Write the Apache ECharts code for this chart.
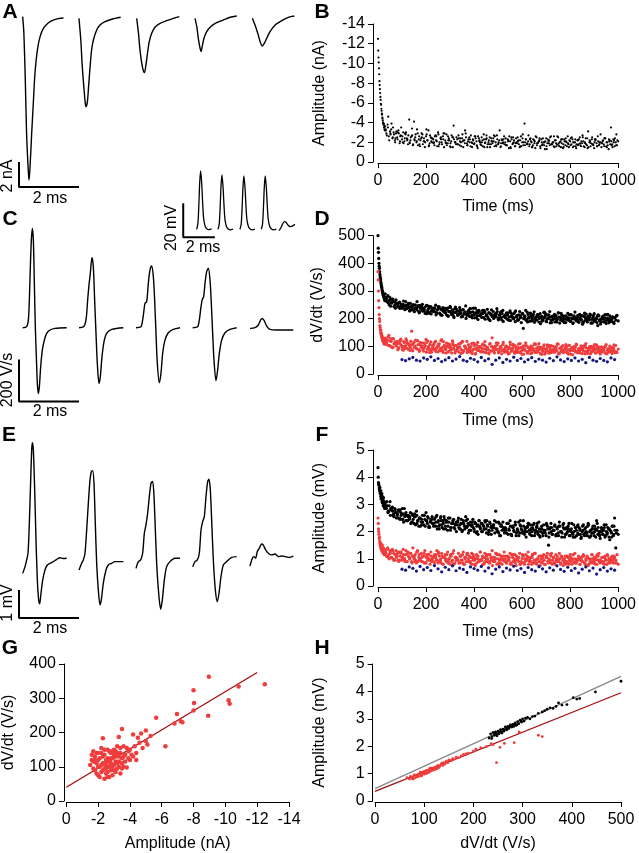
<!DOCTYPE html>
<html><head><meta charset="utf-8">
<script src="https://cdn.jsdelivr.net/npm/echarts/dist/echarts.min.js"></script>
<style>html,body{margin:0;padding:0;background:#fff}#c{width:639px;height:853px}</style>
</head><body><div id="c"></div><script>
// ---------- Panel A: current traces [t (ms from trace start), nA] ----------
const aStarts = [0.756, 2.633, 4.556, 6.5, 8.411];
const traceA1 = [[0,0],[0.04,-1.33],[0.09,-5.33],[0.13,-9.33],[0.18,-12.0],[0.21,-13.07],[0.24,-12.27],[0.30,-9.33],[0.36,-6.67],[0.41,-4.53],[0.49,-2.67],[0.58,-1.6],[0.69,-0.93],[0.86,-0.48],[1.02,-0.27],[1.19,-0.16],[1.36,-0.11]];
const traceA2 = [[0,-0.13],[0.06,-1.87],[0.11,-4.0],[0.17,-5.87],[0.21,-6.93],[0.24,-7.2],[0.28,-6.8],[0.32,-5.6],[0.37,-4.0],[0.42,-2.67],[0.48,-1.87],[0.59,-1.07],[0.70,-0.67],[0.87,-0.4],[1.09,-0.21],[1.39,-0.05]];
const traceA3 = [[0,-0.13],[0.06,-1.33],[0.11,-2.67],[0.17,-3.73],[0.22,-4.32],[0.26,-4.48],[0.30,-4.0],[0.36,-2.93],[0.42,-2.0],[0.50,-1.33],[0.61,-0.85],[0.78,-0.53],[1.0,-0.32],[1.22,-0.13],[1.42,0]];
const traceA4 = [[0,-0.13],[0.06,-0.8],[0.11,-1.73],[0.17,-2.53],[0.20,-2.8],[0.24,-2.4],[0.30,-1.73],[0.39,-1.2],[0.52,-0.8],[0.72,-0.48],[0.94,-0.27],[1.17,-0.05],[1.39,0.05]];
const traceA5 = [[0,-0.13],[0.09,-0.67],[0.18,-1.33],[0.26,-2.0],[0.33,-2.35],[0.40,-2.13],[0.48,-1.73],[0.59,-1.2],[0.76,-0.67],[0.98,-0.32],[1.2,-0.05],[1.4,0.05]];
// ---------- Inset: voltage spikes [t, mV] ----------
const inStarts = [2.32, 3.67, 5.06, 6.41, 7.53];
const spike1 = [[0,0],[0.08,3.5],[0.15,17],[0.19,27],[0.25,34.3],[0.32,27],[0.38,15.3],[0.44,6.5],[0.53,2],[0.63,0.4],[0.78,-0.2],[0.95,0.2]];
const spike2 = [[0,0],[0.08,3.2],[0.15,15.8],[0.19,25],[0.25,32],[0.32,25],[0.38,14.2],[0.44,6],[0.53,1.8],[0.63,0.3],[0.78,-0.3],[0.95,0.1]];
const spike3 = [[0,0],[0.08,3.1],[0.15,15.5],[0.19,24.6],[0.25,31.4],[0.32,24.6],[0.38,13.9],[0.44,5.9],[0.53,1.8],[0.63,0.3],[0.78,-0.3],[0.95,0.1]];
const spike4 = [[0,0],[0.08,3.1],[0.15,15.5],[0.19,24.6],[0.25,31.4],[0.32,24.6],[0.38,13.9],[0.44,5.9],[0.53,1.8],[0.63,0.3],[0.78,-0.3],[0.95,0.1]];
const spike5 = [[0,-0.8],[0.105,0.6],[0.232,3.1],[0.338,4.5],[0.443,4.1],[0.57,2.5],[0.696,1.6],[0.865,2.0],[1.01,2.9]];
// ---------- Panel C: dV/dt traces [t, V/s] ----------
const cStarts = [0.756, 2.633, 4.533, 6.422, 8.333];
const traceC1 = [[0,0],[0.133,5],[0.189,37],[0.222,132],[0.256,290],[0.289,417],[0.322,473],[0.356,417],[0.389,211],[0.422,0],[0.456,-138],[0.489,-265],[0.522,-313],[0.556,-281],[0.6,-186],[0.656,-106],[0.722,-59],[0.8,-27],[0.911,-11],[1.078,-3],[1.467,0]];
const traceC2 = [[0,0],[0.144,3],[0.233,37],[0.289,132],[0.333,203],[0.378,259],[0.433,335],[0.478,290],[0.522,132],[0.567,-27],[0.611,-170],[0.667,-265],[0.711,-233],[0.767,-138],[0.833,-67],[0.922,-27],[1.089,-8],[1.478,0]];
const traceC3 = [[0,0],[0.156,3],[0.222,37],[0.267,84],[0.3,116],[0.356,124],[0.411,211],[0.467,275],[0.522,294],[0.578,243],[0.622,132],[0.667,-27],[0.711,-170],[0.778,-262],[0.833,-217],[0.889,-122],[0.967,-59],[1.078,-24],[1.244,-8],[1.467,0]];
const traceC4 = [[0,0],[0.156,3],[0.222,37],[0.278,100],[0.322,135],[0.367,148],[0.411,211],[0.467,267],[0.522,283],[0.578,227],[0.622,116],[0.667,-27],[0.711,-154],[0.778,-252],[0.833,-202],[0.889,-122],[0.967,-59],[1.078,-24],[1.244,-8],[1.467,0]];
const traceC5 = [[0,-3],[0.167,0],[0.278,13],[0.356,37],[0.411,44],[0.478,33],[0.556,8],[0.667,-8],[0.889,-11],[1.111,-11],[1.444,-11]];
// ---------- Panel E: extracellular traces [t, mV] ----------
const traceE1 = [[0,-0.36],[0.078,-0.12],[0.133,0.12],[0.178,0.36],[0.222,1.43],[0.267,2.98],[0.3,4.05],[0.322,4.31],[0.356,4.05],[0.4,2.62],[0.444,0.83],[0.489,-0.6],[0.533,-1.31],[0.567,-1.45],[0.611,-1.07],[0.667,-0.6],[0.744,-0.24],[0.822,-0.06],[0.911,0],[1.022,0.06],[1.133,0.14],[1.244,0.2],[1.356,0.17],[1.467,0.18]];
const traceE2 = [[0,-0.24],[0.089,0],[0.144,0.12],[0.2,0.36],[0.256,1.19],[0.311,2.14],[0.367,2.98],[0.411,3.27],[0.456,3.31],[0.5,2.86],[0.544,1.43],[0.589,0],[0.644,-0.95],[0.7,-1.49],[0.744,-1.31],[0.811,-0.71],[0.9,-0.24],[0.978,-0.06],[1.089,0],[1.2,0.06],[1.311,0.06],[1.478,0.06]];
const traceE3 = [[0,-0.18],[0.078,0.06],[0.156,0.12],[0.222,0.36],[0.278,1.07],[0.333,1.37],[0.389,1.79],[0.444,2.38],[0.5,2.86],[0.544,2.92],[0.589,2.62],[0.633,1.55],[0.689,0],[0.756,-1.07],[0.822,-1.64],[0.878,-1.31],[0.944,-0.6],[1.022,-0.12],[1.133,0.06],[1.3,0.18],[1.467,0.18]];
const traceE4 = [[0,-0.12],[0.078,0.06],[0.156,0.12],[0.222,0.36],[0.278,1.19],[0.333,1.49],[0.389,1.67],[0.444,2.38],[0.5,2.92],[0.544,3.0],[0.589,2.62],[0.633,1.55],[0.689,0.12],[0.756,-0.95],[0.822,-1.37],[0.878,-1.07],[0.944,-0.48],[1.022,-0.06],[1.133,0.06],[1.3,0.21],[1.467,0.24]];
const traceE5 = [[0,-0.1],[0.078,0.18],[0.133,0.24],[0.189,0.18],[0.244,0.42],[0.311,0.54],[0.389,0.69],[0.444,0.65],[0.522,0.48],[0.611,0.36],[0.722,0.3],[0.833,0.33],[0.944,0.24],[1.056,0.26],[1.167,0.24],[1.311,0.21],[1.444,0.26]];

// ---------- Panel B: amplitude (nA) vs time ----------
const bEarly = [-12.5,-11.3,-10.6,-10.1,-9.5,-8.9,-8.2,-7.8,-7.4,-7.0,-6.6,-6.3,-5.9,-5.8,-5.4,-5.2,-4.9,-4.8,-4.5,-4.4,-4.2,-4.0,-3.9,-3.8,-3.9,-3.5,-3.7,-3.3,-3.6,-3.2];
const bLate1 = [-3.6,-2.9,-3.8,-2.6,-3.1,-3.3,-2.4,-3.0,-2.2,-2.9,-2.5,-3.2,-1.9,-2.7,-2.3,-3.0,-2.1,-2.8,-2.4,-1.8,-4.3,-2.2,-2.6,-1.7,-4.1,-2.5,-2.0,-2.9,-2.3,-1.6,-2.4,-2.8,-2.1,-1.5,-2.6,-2.2,-3.2,-1.9,-2.5,-2.0,-2.3,-1.7,-2.7,-2.1,-3.0,-1.8,-2.4,-2.0,-2.6,-1.5,-2.2,-2.8,-1.9,-2.4,-1.6,-2.1,-2.5,-3.7,-2.0,-1.8,-2.3,-2.7,-1.7,-2.0,-2.4,-1.5,-2.2,-2.9,-1.9,-2.1,-2.5,-1.6,-2.0,-2.3,-1.8,-2.6,-2.1,-1.4,-2.4,-2.0,-1.7,-2.2,-2.8,-1.9,-2.3,-1.5,-2.0,-2.5,-1.8,-2.1,-2.4,-1.6,-2.0,-2.7,-1.8,-2.2,-1.5,-2.3,-1.9,-2.6,-2.0,-1.7,-2.3,-1.4,-2.1,-2.5,-1.8,-2.0,-1.6,-2.4,-1.9,-2.2,-1.5,-2.6,-2.0,-1.7,-3.9,-2.3,-1.8,-2.1,-1.6,-2.4,-2.0,-1.7,-2.2,-1.4,-2.5,-1.9,-2.1,-1.6,-2.3,-1.8,-2.0,-1.3,-2.4,-1.9,-2.1,-1.7,-2.6,-1.8,-2.0,-1.5,-2.2,-1.8,-2.5,-1.6,-2.1,-1.9,-1.4,-2.3,-1.7,-2.0,-2.6,-1.5,-2.1,-1.8,-2.3,-1.6,-2.0,-1.4,-2.2,-1.8,-2.5,-1.6,-1.9,-2.1,-1.5,-2.4,-1.7,-3.1,-2.0,-1.6,-2.3,-1.8,-1.4,-2.2,-1.9,-2.6,-1.7,-2.0,-1.5,-2.1,-1.8,-2.4,-1.6,-2.0,-1.3,-2.2,-3.5,-1.8,-2.3,-1.6,-2.0,-1.7,-2.1];
const bLate2 = [-3.2,-4.6,-2.8,-3.5,-2.4,-3.0,-2.6,-2.0,-2.9,-2.3,-1.9,-2.7,-2.2,-3.3,-1.8,-2.5,-2.1,-2.8,-1.7,-2.4,-2.0,-2.6,-1.6,-2.3,-2.9,-1.9,-2.2,-1.5,-2.5,-2.0,-1.8,-2.4,-2.1,-3.2,-1.7,-2.3,-1.9,-2.6,-1.6,-2.2,-2.0,-1.5,-2.4,-1.8,-2.1,-2.7,-1.6,-2.0,-1.9,-2.3,-1.7,-2.2,-1.4,-2.5,-1.9,-2.1,-1.6,-2.8,-2.0,-1.8,-2.3,-1.5,-2.1,-1.9,-2.4,-1.7,-2.0,-1.3,-2.2,-1.8,-2.6,-1.6,-1.9,-2.3,-1.5,-2.1,-1.8,-2.4,-2.0,-1.6,-2.2,-1.7,-2.5,-1.9,-1.4,-2.1,-1.8,-2.3,-1.6,-2.0,-1.9,-2.4,-1.5,-2.1,-1.7,-2.2,-2.8];
const bLate3 = [-3.3,-2.7,-3.5,-2.2,-2.9,-3.9,-2.5,-2.8,-2.0,-3.1,-2.3,-2.9,-2.1,-3.5,-2.6,-1.9,-2.4,-3.0,-2.2,-2.7,-2.0,-2.5,-3.4,-1.8,-2.3,-2.8,-2.1,-1.7,-2.6,-2.2,-2.9,-1.8,-2.4,-2.0,-3.3,-2.2,-1.6,-2.7,-2.1,-2.4,-1.9,-2.6,-2.2,-1.6,-2.8,-2.0,-2.5,-1.8,-2.3,-2.9,-2.0,-1.7,-2.6,-2.2,-1.9,-2.7,-1.5,-2.3,-2.0,-2.5,-1.8,-2.4,-2.1,-1.6,-2.8,-2.2,-1.9,-2.5,-1.7,-2.3,-2.0,-2.7,-1.5,-2.2,-1.9,-2.4,-1.7,-2.6,-2.1,-1.8,-2.5,-1.6,-2.3,-2.0,-2.7,-1.8,-2.2,-1.5,-2.4,-1.9,-2.1,-2.6,-1.7,-2.3,-1.9,-3.2,-1.6,-2.2,-2.0,-1.8,-2.4,-1.7,-2.1,-2.6,-1.5,-2.3,-1.9,-2.2,-1.6,-2.0,-2.5,-1.8,-2.2,-1.6,-2.4,-2.0,-1.7,-2.3,-1.9,-2.7,-1.8,-2.1,-1.5,-2.3,-1.9,-2.6,-1.7,-2.0,-2.2,-1.4,-2.0,-2.4,-1.7,-2.1,-1.6,-2.3,-1.9,-2.5,-1.8,-2.0,-1.6,-2.2,-1.9,-2.6,-1.7,-2.0,-1.5,-2.3,-1.8,-2.1,-2.4,-1.6,-1.9,-2.2,-1.7,-2.5,-1.5,-2.0,-2.3,-1.8,-1.7,-2.3,-1.9,-2.1,-2.7,-1.6,-2.0,-1.8,-2.4,-1.5,-2.2,-1.9,-2.5,-1.7,-2.0,-2.3,-1.6,-2.1,-1.8,-2.8,-1.9,-2.2,-1.6,-2.4,-2.0,-1.7,-2.3,-1.8,-2.1,-1.5,-2.0,-2.4,-1.7,-2.2];

// ---------- Panel D: dV/dt (V/s) vs time ----------
const dBlackEarly = [500,455,440,418,400,390,382,370,360,352,346,340,332,325,320,315,312,305,300,298,292,290,285,283,278,280,272,275,268,265];
const dBlack1 = [290,272,281,265,276,258,270,262,249,268,255,242,260,248,238,252,244,262,236,247,240,255,232,246,228,250,237,243,226,248,234,252,229,241,222,247,236,219,244,231,238,226,249,220,235,243,216,232,240,224,230,214,238,226,245,219,232,208,236,224,228,215,240,222,210,233,219,246,212,227,220,236,207,225,214,238,203,221,230,212,218,230,204,224,211,234,199,220,215,208,226,205,218,236,200,214,222,196,230,210,204,221,213,195,228,208,217,199,224,206,212,196,226,205,218,165,209,230,197,215,203,220,192,211,225,198,207,215,188,218,205,196,222,209,190,214,201,226,195,208,198,216,204,188,221,206,195,213,200,186,210,197,219,203,191,214,199,207,224,193,205,189,216,198,211,186,220,202,194,209,196,213,185,204,218,192,200,175,210,197,188,206,199,215,183,202,194,210,190,201,186,205,195,212,192];
const dBlack2 = [276,258,245,262,238,255,241,250,233,247,229,244,236,262,224,239,231,218,245,227,234,221,240,213,229,237,210,226,219,242,216,231,208,224,213,236,203,220,229,211,206,223,214,198,232,209,218,202,226,207,213,196,221,205,228,194,210,217,200,188,219,203,195,214,207,191,224,199,208,186,211,197,205,219,190,206,199,214,185,203,196,212,188,207,201,217,184,198,209,192,202,188,215,196,205,183,210];
const dBlack3 = [275,262,283,250,268,256,271,244,259,251,246,258,237,253,241,264,233,249,239,255,228,244,235,251,225,240,232,247,221,238,243,227,236,219,248,230,223,241,217,234,225,239,214,231,244,220,235,212,228,237,221,233,209,226,240,215,229,204,223,235,212,227,219,206,232,216,224,201,218,229,208,223,213,238,203,220,211,197,226,215,205,219,230,198,214,207,222,193,217,210,201,216,208,226,196,212,204,219,190,209,215,199,221,206,193,211,202,218,189,207,197,214,203,186,219,200,209,194,223,204,191,210,199,216,187,205,195,213,201,182,208,194,203,219,189,200,214,185,206,196,202,188,211,197,221,184,204,193,209,199,186,207,195,215,190,201,183,210,198,192,212,187,203,196,180,208,193,217,188,199,205,184,197,211,191,200,186,214,195,181,198,209,189,203,194,216,185,201,192,207,188,204];
const dRedEarly = [370,340,300,265,240,215,200,190,175,168,160,150,158,142,147,135,140,128,133,125,120,130,118,126,112,122,115,108,120,111];
const dRed1 = [130,108,122,140,101,118,95,127,112,105,118,92,110,126,99,86,114,103,121,90,108,96,155,84,115,101,92,120,88,106,97,112,83,104,125,90,99,78,116,93,102,87,118,95,80,109,91,124,85,100,93,112,79,98,106,87,120,94,76,103,89,108,97,74,115,85,101,92,118,82,96,79,110,88,103,72,94,114,85,99,80,105,91,117,77,96,87,108,83,131,94,76,102,89,112,81,98,73,107,90,85,100,78,96,115,82,91,104,75,93,88,108,79,95,71,102,86,113,80,97,84,74,99,89,106,78,93,83,110,76,95,86,101,72,90,105,81,97,77,88,100,79,92,84,108,73,95,87,103,80,89,98,75,104,83,94,70,99,86,108,78,91,85,102,74,96,82,110,79,93,87,73,100,84,95,77,105,81,90,72,98,83,92,76,106,85,79,101,88,74,95,82,103,78,90];
const dRed2 = [115,103,128,96,110,88,119,100,93,112,85,106,97,121,82,101,94,114,89,79,108,92,100,84,117,76,98,90,105,81,95,111,78,100,87,93,74,109,86,97,82,104,90,76,99,88,113,80,94,85,101,73,92,107,83,96,78,89,102,75,93,86,110,80,97,71,91,84,104,79,88,99,76,94,83,106,72,90,85,98,77,92,86,103,74,95,81,89,100,78,87,96,73,91,84,105,80];
const dRed3 = [125,112,133,104,119,98,128,109,116,101,111,95,122,105,89,117,100,127,93,108,102,118,87,110,96,123,91,106,84,114,98,88,112,101,79,119,94,107,85,103,92,115,81,99,108,86,121,95,78,104,89,101,110,83,97,76,113,90,103,85,96,80,109,88,118,82,100,92,77,106,87,99,83,112,91,75,104,86,97,81,93,108,79,102,88,95,73,110,84,99,81,96,89,105,77,92,100,85,114,79,97,84,91,74,106,88,95,80,102,86,78,93,110,83,97,72,90,104,81,95,87,101,76,92,84,107,79,98,88,73,94,82,105,78,91,99,75,89,103,84,80,96,86,109,74,93,81,100,77,90,97,79,88,104,72,95,85,92,80,106,83,91,76,99,87,102,73,94,82,89,100,78,93,85,106,75,90,81,97,86,79,95,84,101,74,92,88,80,96,83,91,77];
const dBlue = [52,48,55,60,50,47,58,53,62,49,56,45,51,59,47,54,63,50,46,57,52,44,60,48,55,35,50,58,42,53,47,61,49,56,44,52,59,46,54,50,43,57,48,62,51,45,55,49,58,47,53,41,60,50,46,56,49,44,58,52];

// ---------- Panel F: amplitude (mV) vs time ----------
const fBlackEarly = [4.35,4.0,3.8,3.75,3.7,3.6,3.55,3.5,3.62,3.4,3.45,3.3,3.5,3.2,3.35,3.25,3.4,3.1,3.3,3.05,3.2,3.15,2.95,3.25,3.0,3.1,2.9,3.05,2.85,3.0];
const fBlack1 = [3.05,2.85,2.95,2.75,3.1,2.8,2.9,2.65,2.85,2.7,2.6,2.8,2.5,2.7,2.45,2.65,2.85,2.4,2.6,2.55,2.45,2.7,2.35,2.6,2.3,2.55,2.75,2.4,2.2,2.5,2.35,2.6,2.25,2.45,2.7,2.3,2.5,2.15,2.4,2.55,2.3,2.45,2.2,2.6,2.35,2.1,2.5,2.25,2.4,2.55,2.2,2.4,2.05,2.35,2.5,2.15,2.3,2.45,2.1,2.35,2.25,2.5,2.1,2.3,2.0,2.4,2.2,2.55,2.15,2.3,2.05,2.35,2.2,2.45,2.1,2.3,1.95,2.25,2.4,2.15,2.3,2.0,2.2,2.4,2.1,2.25,1.9,2.35,2.15,2.05,2.25,2.4,2.75,2.1,2.0,2.3,1.85,2.2,2.35,2.05,2.15,1.95,2.3,2.1,2.4,1.9,2.2,2.05,2.25,1.85,2.1,2.35,1.95,2.2,2.05,2.4,1.9,2.15,2.0,2.3,2.05,2.25,1.85,2.1,2.3,1.95,2.15,2.0,2.35,1.8,2.1,1.95,2.25,2.05,1.85,2.2,1.5,2.1,2.3,1.9,2.05,2.2,1.85,2.15,1.95,2.35,2.0,1.8,2.25,2.1,1.9,2.15,2.0,2.3,1.85,2.1,1.95,2.25,1.8,2.05,2.2,1.9,2.1,1.75,2.0,2.25,1.85,2.15,1.95,2.3,1.8,2.05,1.95,2.2,1.85,2.1,2.4,1.9,2.0,1.75,2.15,1.9,2.05,1.8,2.25,1.95,2.1,1.7,2.0,2.2,1.85,2.5,1.4,2.05,1.9];
const fBlack2 = [2.95,2.75,2.85,2.6,2.7,2.5,2.8,2.45,2.6,2.4,2.55,2.35,2.65,2.3,2.5,2.25,2.6,2.4,2.2,2.45,2.3,2.55,2.2,2.4,2.1,2.35,2.5,2.15,2.3,2.25,2.4,2.1,2.3,2.2,2.45,2.05,2.25,2.35,2.0,2.2,2.3,2.1,2.4,2.0,2.2,2.15,2.35,1.95,2.25,2.1,2.05,2.3,1.9,2.15,2.25,2.0,2.4,1.95,2.1,2.2,1.9,2.15,2.05,2.3,1.85,2.1,2.0,2.25,1.95,2.15,2.05,1.85,2.2,2.0,2.3,1.9,2.1,2.0,1.8,2.15,2.25,1.9,2.05,1.95,2.2,1.8,2.1,2.0,2.3,1.85,2.0,2.15,1.9,2.1,1.8,2.2,1.95];
const fBlack3 = [2.9,3.1,2.7,2.95,2.6,2.85,2.75,2.55,2.8,2.5,2.65,2.75,2.45,2.6,2.85,2.35,2.55,2.7,2.4,2.6,2.5,2.3,2.65,2.45,2.55,2.25,2.6,2.4,2.5,2.2,2.45,2.35,2.6,2.2,2.4,2.55,2.15,2.35,2.45,2.3,2.2,2.5,2.35,2.1,2.4,2.25,2.55,2.15,2.3,2.45,2.1,2.35,2.2,2.5,2.05,2.3,2.4,2.15,2.25,2.0,2.35,2.15,2.25,2.45,2.05,2.3,2.1,2.4,2.2,1.95,2.25,2.05,2.35,2.15,2.0,2.3,2.2,1.9,2.4,2.1,2.0,2.25,2.1,2.35,1.95,2.2,2.05,2.3,1.9,2.15,2.25,1.95,2.1,2.0,2.35,1.85,2.2,2.05,2.15,1.95,2.1,2.3,1.9,2.05,2.2,1.85,2.15,2.0,2.35,1.95,2.05,1.85,2.25,2.1,1.95,2.2,2.0,1.8,2.15,2.3,1.95,2.1,2.0,2.25,1.85,2.05,2.2,1.9,2.1,2.0,2.2,1.85,2.05,1.95,2.3,2.1,1.8,2.15,2.0,1.9,2.05,2.25,1.9,2.1,1.85,2.2,2.0,1.95,2.15,1.8,2.1,1.95,2.2,1.85,2.05,2.3,1.9,2.0,2.15,1.85,1.95,2.15,2.05,1.8,2.2,1.9,2.1,2.0,1.85,2.25,2.0,1.85,2.1,1.95,2.2,1.8,2.05,2.15,1.9,2.0,2.1,1.9,2.25,1.85,2.0,2.15,1.8,2.05,1.95,2.2,1.9,2.05];
const fRedEarly = [2.5,2.3,2.1,2.0,1.9,1.75,1.8,1.65,1.55,1.6,1.45,1.5,1.4,1.55,1.35,1.45,1.3,1.4,1.5,1.25,1.35,1.3,1.2,1.4,1.25,1.3,1.15,1.35,1.2,1.25];
const fRed1 = [1.3,1.1,1.4,1.15,1.25,1.05,1.35,1.2,0.95,1.3,1.1,1.25,0.95,1.2,1.05,1.35,1.0,1.15,0.9,1.25,1.05,1.2,0.9,1.4,1.0,1.15,0.85,1.3,1.05,0.95,1.2,0.9,1.1,1.3,0.85,1.05,1.15,0.95,1.25,1.0,0.9,1.15,1.05,1.3,0.85,1.1,0.95,1.2,0.8,1.05,1.15,0.9,1.25,1.0,0.8,1.1,0.95,1.3,0.85,1.05,1.0,1.2,0.85,1.1,0.95,1.25,0.8,1.05,1.15,0.9,1.1,0.85,1.2,0.95,1.05,0.75,1.15,1.0,0.9,1.25,0.95,1.1,0.8,1.2,1.0,0.9,1.15,0.85,1.05,1.3,0.9,1.05,1.2,0.8,1.0,1.15,0.85,1.1,0.95,1.25,1.0,0.85,1.1,0.95,1.2,0.8,1.05,0.9,1.15,0.75,1.05,0.9,1.2,0.85,1.0,1.1,0.8,1.15,0.95,1.25,0.9,1.05,0.8,1.15,0.95,1.2,0.85,1.0,1.1,0.75,1.0,0.9,1.15,0.8,1.05,1.2,0.85,0.95,1.1,0.8,1.05,0.85,1.15,0.9,1.0,1.2,0.8,1.1,0.95,0.85,1.1,0.9,1.05,0.8,1.15,0.95,1.0,0.85,1.2,0.9,0.95,1.1,0.8,1.05,0.9,1.15,0.85,1.0,1.1,0.75,1.0,0.85,1.15,0.9,1.05,0.8,1.1,0.95,1.2,0.85,0.9,1.05,0.8,1.1,0.95,1.15,0.85,1.0,0.9,1.1,0.85,1.05,0.95,1.15,0.8];
const fRed2 = [1.2,1.05,1.3,1.0,1.15,0.95,1.25,1.05,0.9,1.2,1.0,1.1,0.9,1.25,0.95,1.05,0.85,1.15,1.0,0.9,1.1,0.95,1.2,0.85,1.05,1.0,0.9,1.15,0.8,1.05,0.95,1.1,0.85,1.0,1.2,0.9,1.05,0.8,1.1,0.95,1.0,0.85,1.15,0.9,1.05,0.95,1.2,0.8,1.0,1.1,0.9,1.05,0.85,1.15,0.95,1.0,0.8,1.1,0.9,1.05,0.95,1.15,0.85,1.0,0.9,1.1,0.8,1.05,0.95,1.2,0.85,1.0,0.9,1.1,0.95,0.8,1.05,0.9,1.15,0.85,1.0,0.95,1.1,0.8,1.05,0.9,1.0,0.85,1.15,0.95,0.9,1.05,0.8,1.0,0.95,1.1,0.85];
const fRed3 = [1.25,1.1,1.35,1.0,1.2,1.05,1.3,0.95,1.15,1.05,1.2,0.9,1.1,1.25,0.95,1.15,1.0,1.3,0.9,1.1,1.0,1.2,0.85,1.1,1.05,0.95,1.25,0.9,1.15,1.0,0.9,1.1,1.2,0.85,1.05,0.95,1.15,0.8,1.1,1.0,1.05,0.85,1.15,0.95,1.25,0.9,1.0,1.1,0.8,1.05,0.95,1.15,0.85,1.0,1.1,0.9,1.2,0.8,1.05,0.95,1.0,0.85,1.1,0.95,1.15,0.8,1.05,0.9,1.2,1.0,0.9,1.05,0.8,1.15,0.95,1.0,0.85,1.1,0.9,1.25,0.95,0.8,1.05,0.9,1.1,1.0,0.85,1.15,0.95,0.75,1.05,0.9,1.0,1.15,0.85,0.95,1.1,0.8,1.0,0.9,1.1,0.85,0.95,1.05,0.8,1.15,0.9,1.0,0.85,1.1,0.95,1.05,0.8,0.9,1.15,0.85,1.0,0.95,1.1,0.8,1.0,0.9,1.05,0.85,1.2,0.95,0.8,1.0,0.9,1.1,0.85,1.05,0.95,0.8,1.1,0.9,1.0,1.15,0.85,0.95,1.05,0.8,0.95,1.1,0.9,1.0,0.85,1.05,0.75,1.0,0.9,1.1,0.85,0.95,1.05,0.8,1.15,0.9,1.0,0.85,0.95,1.05,0.8,1.0,0.9,1.1,0.85,0.95,1.05,0.8,1.0,0.9,1.15,0.85,0.95,1.0,0.8,1.1,0.9,0.95,1.05,0.85,0.9,1.0,0.8,1.1,0.95,0.85,1.05,0.9,1.0,0.85];
const fBlue = [0.62,0.58,0.7,0.65,0.55,0.72,0.6,0.68,0.57,0.75,0.63,0.52,0.69,0.6,0.74,0.56,0.66,0.61,0.5,0.7,0.64,0.58,0.72,0.55,0.67,0.45,0.62,0.7,0.53,0.66,0.59,0.73,0.57,0.64,0.5,0.68,0.6,0.55,0.71,0.63,0.52,0.67,0.58,0.74,0.61,0.54,0.69,0.57,0.65,0.48,0.62,0.7,0.56,0.66,0.44,0.6,0.68,0.55,0.63,0.58];

// ---------- Panel G: dV/dt (V/s) vs amplitude (nA) ----------
const gPoints = [[-1.6,120],[-1.7,95],[-1.8,130],[-1.9,110],[-2.0,75],[-2.0,140],[-2.1,100],[-2.1,125],[-2.2,85],[-2.2,155],[-2.3,183],[-2.3,110],[-2.4,65],[-2.4,95],[-2.4,135],[-2.5,120],[-2.5,80],[-2.6,150],[-2.6,100],[-2.7,70],[-2.7,115],[-2.8,140],[-2.8,90],[-2.9,125],[-2.9,75],[-3.0,105],[-3.0,150],[-3.1,85],[-3.1,130],[-3.2,95],[-3.2,160],[-3.3,187],[-3.3,115],[-3.4,140],[-3.4,80],[-3.5,210],[-3.5,125],[-3.6,100],[-3.6,160],[-3.7,135],[-3.8,155],[-3.8,98],[-3.9,145],[-4.0,120],[-4.2,194],[-4.2,130],[-4.3,160],[-4.4,140],[-4.5,185],[-4.6,170],[-4.7,197],[-4.8,155],[-5.0,206],[-5.0,175],[-5.1,165],[-5.3,190],[-1.5,105],[-1.6,135],[-1.7,115],[-1.8,90],[-1.9,140],[-2.0,120],[-2.1,70],[-2.2,105],[-2.3,130],[-2.3,90],[-2.4,150],[-2.5,105],[-2.6,125],[-2.6,85],[-2.7,145],[-2.8,110],[-2.9,100],[-3.0,135],[-3.0,90],[-3.1,115],[-3.2,140],[-3.3,100],[-3.4,155],[-3.5,110],[-3.6,130],[-3.7,115],[-3.9,125],[-4.0,150],[-4.1,135],[-4.4,120],[-1.7,145],[-1.9,80],[-2.2,140],[-2.5,95],[-2.7,100],[-2.8,125],[-3.1,145],[-3.3,130],[-3.5,95],[-2.0,100],[-2.4,110],[-2.6,70],[-1.8,120],[-2.9,145],[-3.2,110],[-5.65,243],[-6.23,160],[-6.8,226],[-6.96,254],[-7.2,233],[-7.3,230],[-8.0,323],[-8.03,286],[-8.0,264],[-8.92,249],[-8.96,363],[-10.2,294],[-10.27,284],[-10.83,334],[-12.48,341]];
const gFit = [[0,40],[-12,375]];

// ---------- Panel H: amplitude (mV) vs dV/dt (V/s) ----------
const hRed = [[65,0.85],[70,0.8],[72,0.9],[75,0.82],[78,0.88],[80,0.95],[82,0.85],[85,0.92],[88,0.98],[90,0.9],[92,1.0],[94,0.95],[96,1.05],[98,1.0],[100,1.08],[100,0.98],[102,1.05],[104,1.12],[106,1.02],[108,1.1],[110,1.15],[110,1.05],[112,1.2],[114,1.1],[116,1.18],[118,1.12],[120,1.22],[122,1.15],[124,1.25],[126,1.18],[128,1.3],[130,1.22],[132,1.28],[135,1.35],[138,1.3],[140,1.4],[142,1.35],[145,1.45],[148,1.4],[150,1.5],[155,1.48],[158,1.55],[160,1.52],[165,1.6],[170,1.58],[175,1.65],[180,1.7],[185,1.72],[190,1.75],[86,0.88],[92,1.05],[104,1.0],[115,1.2],[125,1.2],[136,1.38],[146,1.42],[78,0.8],[95,0.92],[186,1.71],[205,1.89],[200,1.82],[215,1.95],[227,1.99],[236,2.09],[240,2.05],[247,1.4],[254,1.96],[263,2.1],[283,2.13],[293,2.52],[332,2.4],[340,2.35]];
const hBlack = [[232,2.3],[235,2.45],[238,2.35],[240,2.5],[243,2.4],[245,2.52],[248,2.38],[250,2.55],[252,2.45],[255,2.6],[258,2.48],[260,2.62],[262,2.55],[265,2.7],[268,2.6],[270,2.72],[272,2.65],[275,2.78],[278,2.7],[280,2.8],[282,2.72],[285,2.85],[288,2.78],[290,2.9],[292,2.82],[295,2.95],[298,2.88],[300,3.0],[303,2.92],[306,3.02],[310,3.05],[315,3.0],[320,3.08],[325,3.1],[332,3.2],[340,3.25],[345,3.3],[350,3.35],[356,3.4],[362,3.38],[368,3.45],[373,3.58],[380,3.5],[390,3.52],[403,3.77],[410,3.72],[416,3.74],[448,3.98],[500,4.37],[237,2.28],[247,2.45],[257,2.52],[267,2.68],[277,2.74],[287,2.76],[297,2.92],[253,2.5],[263,2.6],[273,2.7],[283,2.8],[243,2.48]];
const hFitBlack = [[0,0.45],[500,4.55]];
const hFitRed = [[0,0.35],[500,3.95]];

// ---------- Scale bars (data units of each trace panel) ----------
const barA = [[0.633,-11.63],[0.633,-13.63],[2.633,-13.63]];   // 2 nA, 2 ms
const barIn = [[1.47,15.3],[1.47,-4.7],[3.47,-4.7]];           // 20 mV, 2 ms
const barC = [[0.633,-152],[0.633,-352],[2.633,-352]];         // 200 V/s, 2 ms
const barE = [[0.633,-0.95],[0.633,-1.95],[2.633,-1.95]];      // 1 mV, 2 ms

// ---------- build ----------
const FONT = '"Liberation Sans", Arial, Helvetica, sans-serif';
const RED = '#f03c3c', BLUE = '#16167e', DARKRED = '#a80c0c';
const shift = (tr, t0) => tr.map(p => [p[0] + t0, p[1]]);
const seq = (vals, t0, dt) => vals.map((v, i) => [t0 + i * dt, v]);

const grids = [
  {left:0, top:4.17, width:300, height:187.5},
  {left:160, top:161.3, width:158, height:93.5},
  {left:0, top:201.7, width:300, height:210},
  {left:0, top:423.3, width:300, height:224},
  {left:378, top:24, width:243, height:138},
  {left:378, top:235.7, width:243, height:138.3},
  {left:378, top:450, width:243, height:136},
  {left:64, top:664, width:225, height:138},
  {left:375, top:664, width:246, height:138}
];
const hidden = (gi, min, max) => ({type:'value', gridIndex:gi, min, max, show:false});
const LBL = (m) => ({color:'#000', fontSize:16, fontFamily:FONT, margin:m, formatter: v => String(v)});
function vis(gi, extra) {
  return Object.assign({
    type:'value', gridIndex:gi,
    axisLine:{show:true, onZero:false, lineStyle:{color:'#000', width:1}},
    axisTick:{show:true, length:5, lineStyle:{color:'#000', width:1}},
    axisLabel:LBL(8),
    splitLine:{show:false},
    nameLocation:'middle',
    nameTextStyle:{color:'#000', fontSize:16, fontFamily:FONT}
  }, extra);
}
const xAxes = [
  hidden(0,0,10), hidden(1,0,10), hidden(2,0,10), hidden(3,0,10),
  vis(4,{min:0,max:1000,interval:200,name:'Time (ms)',nameGap:36,offset:1,axisLabel:LBL(10)}),
  vis(5,{min:0,max:1000,interval:200,name:'Time (ms)',nameGap:38,offset:1,axisLabel:LBL(10)}),
  vis(6,{min:0,max:1000,interval:200,name:'Time (ms)',nameGap:37,offset:1,axisLabel:LBL(10)}),
  vis(7,{min:-14,max:0,interval:2,inverse:true,name:'Amplitude (nA)',nameGap:34,offset:1,axisLabel:LBL(10)}),
  vis(8,{min:0,max:500,interval:100,name:'dV/dt (V/s)',nameGap:34,offset:1,axisLabel:LBL(10)})
];
const yAxes = [
  hidden(0,-14,1), hidden(1,-15,40), hidden(2,-400,600), hidden(3,-3,5),
  vis(4,{min:-14,max:0,interval:2,inverse:true,name:'Amplitude (nA)',nameGap:45,offset:5}),
  vis(5,{min:0,max:500,interval:100,name:'dV/dt (V/s)',nameGap:47,offset:5}),
  vis(6,{min:0,max:5,interval:1,name:'Amplitude (mV)',nameGap:45,offset:5}),
  vis(7,{min:0,max:400,interval:100,name:'dV/dt (V/s)',nameGap:47,offset:2.3}),
  vis(8,{min:0,max:5,interval:1,name:'Amplitude (mV)',nameGap:45,offset:2.3})
];

const series = [];
function line(gi, data, color, width, smooth) {
  series.push({type:'line', xAxisIndex:gi, yAxisIndex:gi, data, showSymbol:false, symbol:'none',
    smooth: smooth || false, lineStyle:{color, width}, silent:true, z:3});
}
function dots(gi, data, color, size) {
  series.push({type:'scatter', xAxisIndex:gi, yAxisIndex:gi, data, symbolSize:size,
    itemStyle:{color, opacity:1}, silent:true, z:4});
}
[traceA1,traceA2,traceA3,traceA4,traceA5].forEach((tr,i)=>line(0, shift(tr,aStarts[i]), '#000', 1.4, 0.3));
[spike1,spike2,spike3,spike4,spike5].forEach((tr,i)=>line(1, shift(tr,inStarts[i]), '#000', 1.3, 0.3));
[traceC1,traceC2,traceC3,traceC4,traceC5].forEach((tr,i)=>line(2, shift(tr,cStarts[i]), '#000', 1.4, 0.3));
[traceE1,traceE2,traceE3,traceE4,traceE5].forEach((tr,i)=>line(3, shift(tr,cStarts[i]), '#000', 1.4, 0.25));
line(0, barA, '#000', 2); line(1, barIn, '#000', 2); line(2, barC, '#000', 2); line(3, barE, '#000', 2);

dots(4, seq(bEarly,0,1).concat(seq(bLate1,30,5), seq(bLate2,32.5,10), seq(bLate3,31.5,5)), '#000', 2.2);
dots(5, seq(dBlackEarly,0,1).concat(seq(dBlack1,30,5), seq(dBlack2,32.5,10), seq(dBlack3,31.5,5)), '#000', 3.2);
dots(5, seq(dRedEarly,0,1).concat(seq(dRed1,30,5), seq(dRed2,32.5,10), seq(dRed3,31.5,5)), RED, 3.2);
dots(5, seq(dBlue,100,15), BLUE, 3.2);
dots(6, seq(fBlackEarly,0,1).concat(seq(fBlack1,30,5), seq(fBlack2,32.5,10), seq(fBlack3,31.5,5)), '#000', 3.2);
dots(6, seq(fRedEarly,0,1).concat(seq(fRed1,30,5), seq(fRed2,32.5,10), seq(fRed3,31.5,5)), RED, 3.2);
dots(6, seq(fBlue,100,15), BLUE, 3.2);
dots(7, gPoints, RED, 4.5);
line(7, gFit, DARKRED, 1.3);
line(8, hFitBlack, '#888', 1.3);
line(8, hFitRed, DARKRED, 1.3);
dots(8, hRed, RED, 2.8);
dots(8, hBlack, '#000', 2.8);

function txt(s, x, y, size, bold, rot) {
  return {type:'text', x, y, rotation: rot ? Math.PI/2 : 0, silent:true, z:10,
    style:{text:s, x:0, y:0, fill:'#000', font:(bold?'bold ':'') + size + 'px ' + FONT,
      textAlign:'center', textVerticalAlign:'middle'}};
}
const graphic = [
  txt('A',10,12.5,21,true), txt('B',322,12.5,21,true), txt('C',10,219.5,21,true), txt('D',322,219.5,21,true),
  txt('E',9,435.5,21,true), txt('F',322,435.5,21,true), txt('G',10,648.5,21,true), txt('H',322,648.5,21,true),
  txt('2 nA',8,176,16,false,true), txt('2 ms',50,199,16,false),
  txt('20 mV',172,228,16,false,true), txt('2 ms',203,248,16,false),
  txt('200 V/s',8,380,16,false,true), txt('2 ms',50,412,16,false),
  txt('1 mV',8,603,16,false,true), txt('2 ms',50,629,16,false)
];

const chart = echarts.init(document.getElementById('c'), null, {renderer:'canvas'});
chart.setOption({backgroundColor:'#fff', animation:false, grid:grids, xAxis:xAxes, yAxis:yAxes, series, graphic});
</script></body></html>
